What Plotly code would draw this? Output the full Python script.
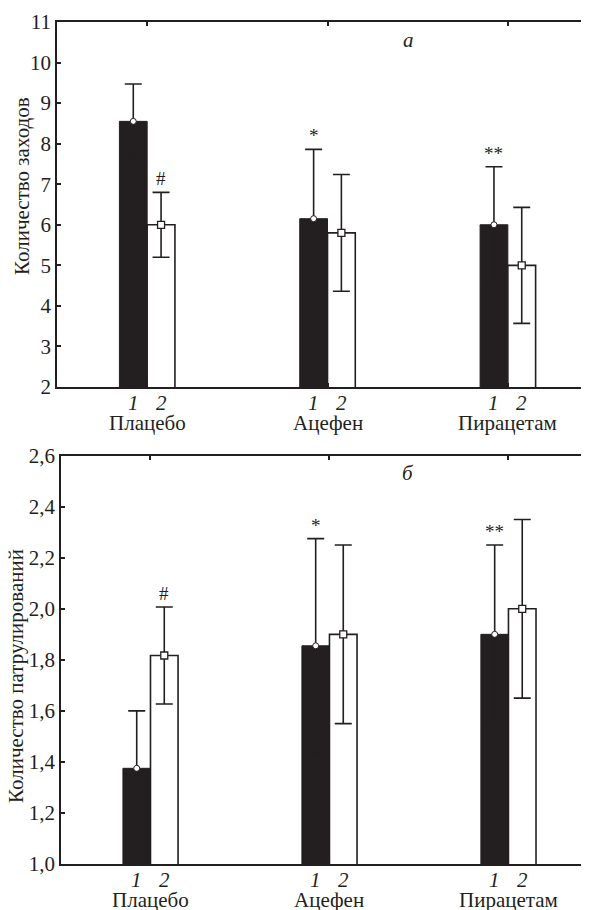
import plotly.graph_objects as go

categories = ["Плацебо", "Ацефен", "Пирацетам"]
group_labels = ["1", "2"]

# Panel а: количество заходов
a_mean_1 = [8.55, 6.15, 6.00]
a_err_1 = [0.92, 1.71, 1.43]
a_mean_2 = [6.00, 5.80, 5.00]
a_err_2 = [0.80, 1.44, 1.43]
a_marks_1 = ["", "*", "**"]
a_marks_2 = ["#", "", ""]

# Panel б: количество патрулирований
b_mean_1 = [1.375, 1.855, 1.90]
b_err_1 = [0.225, 0.42, 0.35]
b_mean_2 = [1.817, 1.90, 2.00]
b_err_2 = [0.19, 0.35, 0.35]
b_marks_1 = ["", "*", "**"]
b_marks_2 = ["#", "", ""]

INK = "#231f20"
FONT = "Liberation Serif"
FS = 21
OFF = 0.077
W = 0.154
WID, HEI, SH = 581, 902, 8  # page body offset of 8 px

def px_x(v):
    return (v - SH) / WID

def px_y(v):
    return 1 - (v - SH) / HEI

fig = go.Figure()
xs = list(range(len(categories)))

def add_panel(m1, e1, m2, e2, mk1, mk2, xa, ya):
    x1 = [x - OFF for x in xs]
    x2 = [x + OFF for x in xs]
    fig.add_trace(go.Bar(x=x1, y=m1, width=W, marker=dict(color=INK, line=dict(color=INK, width=1)),
                         xaxis=xa, yaxis=ya, showlegend=False))
    fig.add_trace(go.Bar(x=x2, y=m2, width=W, marker=dict(color="white", line=dict(color=INK, width=1.6)),
                         xaxis=xa, yaxis=ya, showlegend=False))
    fig.add_trace(go.Scatter(x=x1, y=m1, mode="markers", xaxis=xa, yaxis=ya, showlegend=False,
                             marker=dict(symbol="circle", size=6, color="white", line=dict(color=INK, width=1)),
                             error_y=dict(type="data", array=e1, color=INK, thickness=1.6, width=8.5)))
    fig.add_trace(go.Scatter(x=x2, y=m2, mode="markers", xaxis=xa, yaxis=ya, showlegend=False,
                             marker=dict(symbol="square", size=7, color="white", line=dict(color=INK, width=1.3)),
                             error_y=dict(type="data", array=e2, color=INK, thickness=1.6, width=8.5)))
    for i in xs:
        for xx, mv, ev, t in ((x1[i], m1[i], e1[i], mk1[i]), (x2[i], m2[i], e2[i], mk2[i])):
            if t:
                fig.add_annotation(x=xx, y=mv + ev, xref=xa, yref=ya, text=t, showarrow=False,
                                   xanchor="center", yanchor="bottom", yshift=1,
                                   font=dict(family=FONT, size=19, color=INK))
        for xx, g in ((x1[i], group_labels[0]), (x2[i], group_labels[1])):
            fig.add_annotation(x=xx, y=0, xref=xa, yref=ya + " domain", text="<i>" + g + "</i>",
                               showarrow=False, xanchor="center", yanchor="top", yshift=-2,
                               font=dict(family=FONT, size=FS, color=INK))
        fig.add_annotation(x=i, y=0, xref=xa, yref=ya + " domain", text=categories[i],
                           showarrow=False, xanchor="center", yanchor="top", yshift=-22,
                           font=dict(family=FONT, size=FS, color=INK))

add_panel(a_mean_1, a_err_1, a_mean_2, a_err_2, a_marks_1, a_marks_2, "x", "y")
add_panel(b_mean_1, b_err_1, b_mean_2, b_err_2, b_marks_1, b_marks_2, "x2", "y2")

axis_common = dict(showline=True, linecolor=INK, linewidth=1.6, showgrid=False, zeroline=False,
                   automargin=False, ticklen=4, tickwidth=1.6, tickcolor=INK, ticks="inside",
                   tickfont=dict(family=FONT, size=FS, color=INK))
fig.update_layout(
    width=WID, height=HEI, margin=dict(l=0, r=0, t=0, b=0, autoexpand=False),
    paper_bgcolor="white", plot_bgcolor="white", separators=", ",
    barmode="overlay",
    font=dict(family=FONT, size=FS, color=INK),
    xaxis=dict(domain=[px_x(57), 1], anchor="y", range=[-0.5, 2.45], tickvals=xs,
               mirror="ticks", showticklabels=False, **axis_common),
    yaxis=dict(domain=[px_y(387), px_y(22)], anchor="x", range=[2, 11], dtick=1,
               mirror=False, **axis_common),
    xaxis2=dict(domain=[px_x(61), 1], anchor="y2", range=[-0.5, 2.45], tickvals=xs,
                mirror="ticks", showticklabels=False, **axis_common),
    yaxis2=dict(domain=[px_y(864), px_y(455.7)], anchor="x2", range=[1.0, 2.6], dtick=0.2,
                tickformat=".1f", mirror=False, **axis_common),
)

fig.add_annotation(x=px_x(22), y=px_y(186), xref="paper", yref="paper", text="Количество заходов",
                   textangle=-90, showarrow=False, xanchor="center", yanchor="middle",
                   font=dict(family=FONT, size=FS, color=INK))
fig.add_annotation(x=px_x(16), y=px_y(676), xref="paper", yref="paper", text="Количество патрулирований",
                   textangle=-90, showarrow=False, xanchor="center", yanchor="middle",
                   font=dict(family=FONT, size=FS, color=INK))
fig.add_annotation(x=px_x(408), y=px_y(40), xref="paper", yref="paper", text="<i>а</i>",
                   showarrow=False, xanchor="center", yanchor="middle",
                   font=dict(family=FONT, size=FS, color=INK))
fig.add_annotation(x=px_x(408), y=px_y(473), xref="paper", yref="paper", text="<i>б</i>",
                   showarrow=False, xanchor="center", yanchor="middle",
                   font=dict(family=FONT, size=FS, color=INK))

fig.write_html("out.html")
